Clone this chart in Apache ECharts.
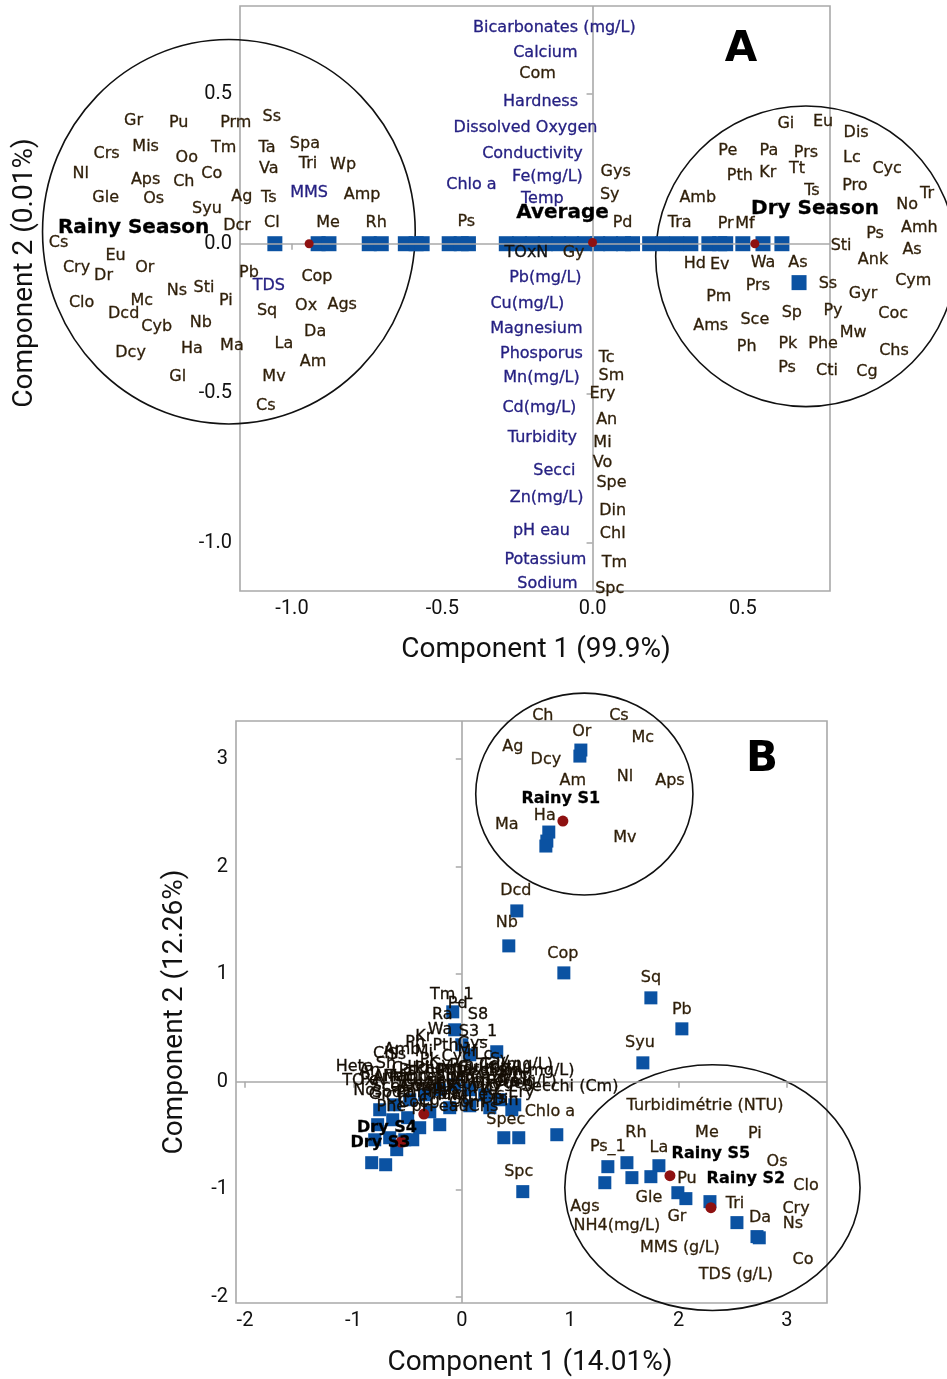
<!DOCTYPE html>
<html>
<head>
<meta charset="utf-8">
<script src="https://cdn.jsdelivr.net/npm/echarts@6/dist/echarts.min.js"></script>
<style>
  html, body { margin: 0; padding: 0; background: #ffffff; }
  #chart { width: 947px; height: 1379px; }
</style>
</head>
<body>
<div id="chart"></div>
<script>
// ---------- Panel A : PCA on seasons (PC1 99.9 %, PC2 0.01 %) ----------
// Species loadings [label, PC1, PC2]
const speciesA = [
  ['Gr', -1.527, 0.411], ['Pu', -1.377, 0.405], ['Prm', -1.187, 0.405], ['Ss', -1.067, 0.425],
  ['Crs', -1.617, 0.301], ['Mis', -1.487, 0.324], ['Oo', -1.350, 0.288], ['Tm', -1.227, 0.321],
  ['Ta', -1.083, 0.321], ['Nl', -1.703, 0.234], ['Aps', -1.487, 0.214], ['Ch', -1.360, 0.207],
  ['Co', -1.267, 0.234], ['Va', -1.077, 0.251], ['Gle', -1.620, 0.154], ['Os', -1.460, 0.151],
  ['Ag', -1.167, 0.157], ['Ts', -1.077, 0.154], ['Syu', -1.283, 0.117], ['Dcr', -1.183, 0.060],
  ['Cl', -1.067, 0.070], ['Cs', -1.777, 0.003], ['Eu', -1.587, -0.040], ['Cry', -1.717, -0.080],
  ['Dr', -1.627, -0.107], ['Or', -1.490, -0.080], ['Pb', -1.143, -0.097], ['Ns', -1.383, -0.157],
  ['Sti', -1.293, -0.147], ['Pi', -1.220, -0.191], ['Clo', -1.700, -0.197], ['Mc', -1.500, -0.191],
  ['Dcd', -1.560, -0.234], ['Cyb', -1.450, -0.278], ['Nb', -1.303, -0.264], ['Sq', -1.083, -0.224],
  ['Ha', -1.333, -0.351], ['Ma', -1.200, -0.341], ['La', -1.027, -0.334], ['Dcy', -1.537, -0.365],
  ['Gl', -1.380, -0.445], ['Mv', -1.060, -0.445], ['Cs', -1.087, -0.542],
  ['Spa', -0.957, 0.334], ['Tri', -0.947, 0.268], ['Wp', -0.830, 0.264], ['Amp', -0.767, 0.164],
  ['Me', -0.880, 0.070], ['Rh', -0.720, 0.070], ['Cop', -0.917, -0.110], ['Ox', -0.953, -0.207],
  ['Ags', -0.833, -0.204], ['Da', -0.923, -0.294], ['Am', -0.930, -0.395], ['Ps', -0.420, 0.074],
  ['Com', -0.183, 0.569], ['Gys', 0.077, 0.241], ['Sy', 0.057, 0.164], ['Pd', 0.100, 0.070],
  ['Gy', -0.063, -0.030], ['Tc', 0.047, -0.381], ['Sm', 0.063, -0.441], ['Ery', 0.033, -0.502],
  ['An', 0.047, -0.589], ['Mi', 0.033, -0.666], ['Vo', 0.033, -0.732], ['Spe', 0.063, -0.799],
  ['Din', 0.067, -0.893], ['Chl', 0.067, -0.970], ['Tm', 0.073, -1.067], ['Spc', 0.057, -1.154],
  ['Gi', 0.643, 0.401], ['Eu', 0.767, 0.408], ['Dis', 0.877, 0.371], ['Pe', 0.450, 0.311],
  ['Pa', 0.587, 0.311], ['Prs', 0.710, 0.304], ['Lc', 0.863, 0.288], ['Cyc', 0.980, 0.251],
  ['Pth', 0.490, 0.227], ['Kr', 0.583, 0.237], ['Tt', 0.680, 0.251], ['Ts', 0.730, 0.177],
  ['Pro', 0.873, 0.194], ['Amb', 0.350, 0.154], ['No', 1.047, 0.130], ['Tr', 1.113, 0.167],
  ['Tra', 0.290, 0.070], ['Pr', 0.443, 0.067], ['Mf', 0.507, 0.067], ['Amh', 1.087, 0.054],
  ['Ps', 0.940, 0.033], ['Sti', 0.827, -0.007], ['As', 1.063, -0.020], ['Ank', 0.933, -0.054],
  ['Hd', 0.340, -0.067], ['Ev', 0.423, -0.070], ['Wa', 0.567, -0.064], ['As', 0.683, -0.064],
  ['Prs', 0.550, -0.140], ['Ss', 0.783, -0.134], ['Cym', 1.067, -0.124], ['Gyr', 0.900, -0.167],
  ['Pm', 0.420, -0.177], ['Sp', 0.663, -0.231], ['Py', 0.800, -0.224], ['Coc', 1.000, -0.234],
  ['Sce', 0.540, -0.254], ['Ams', 0.393, -0.274], ['Mw', 0.867, -0.298], ['Ph', 0.513, -0.344],
  ['Pk', 0.650, -0.334], ['Phe', 0.767, -0.334], ['Chs', 1.003, -0.358], ['Ps', 0.647, -0.415],
  ['Cti', 0.780, -0.425], ['Cg', 0.913, -0.428]
];
// Physico-chemical loadings [label, PC1, PC2]
const paramsA = [
  ['Bicarbonates (mg/L)', -0.127, 0.722], ['Calcium', -0.157, 0.639], ['Hardness', -0.173, 0.475],
  ['Dissolved Oxygen', -0.223, 0.388], ['Conductivity', -0.200, 0.301], ['Chlo a', -0.403, 0.197],
  ['Fe(mg/L)', -0.150, 0.224], ['Temp', -0.167, 0.151],
  ['Pb(mg/L)', -0.157, -0.114], ['Cu(mg/L)', -0.217, -0.201], ['Magnesium', -0.187, -0.284],
  ['Phosporus', -0.170, -0.368], ['Mn(mg/L)', -0.170, -0.448], ['Cd(mg/L)', -0.177, -0.548],
  ['Turbidity', -0.167, -0.649], ['Secci', -0.127, -0.759], ['Zn(mg/L)', -0.153, -0.849],
  ['pH eau', -0.170, -0.960], ['Potassium', -0.157, -1.057], ['Sodium', -0.150, -1.137],
  ['MMS', -0.943, 0.171], ['TDS', -1.077, -0.140]
];
// Parameter label sitting on the sample row
const paramsOnRowA = [['TOxN', -0.220, -0.030]];
// Season labels [label, PC1, PC2]
const seasonsA = [['Rainy Season', -1.527, 0.054], ['Average', -0.100, 0.104], ['Dry Season', 0.740, 0.117]];
// Sample scores [PC1, PC2]
const scoresA = [
  [-1.057, 0], [-0.913, 0], [-0.877, 0], [-0.743, 0], [-0.703, 0], [-0.623, 0], [-0.587, 0],
  [-0.567, 0], [-0.477, 0], [-0.437, 0], [-0.413, 0], [-0.287, 0], [-0.243, 0], [-0.200, 0],
  [-0.157, 0], [-0.113, 0], [-0.070, 0], [-0.027, 0], [0.017, 0], [0.060, 0], [0.103, 0],
  [0.133, 0], [0.190, 0], [0.233, 0], [0.280, 0], [0.327, 0], [0.387, 0], [0.423, 0],
  [0.443, 0], [0.500, 0], [0.567, 0], [0.630, 0], [0.687, -0.130]
];
// Group centroids [PC1, PC2]
const centroidsA = [[-0.943, 0], [0.0, 0.004], [0.540, 0]];
// Group envelopes [centre PC1, centre PC2, radius PC1, radius PC2]
const groupsA = [[-1.210, 0.040, 0.620, 0.642], [0.710, -0.042, 0.500, 0.502]];
const ticksAx = [-1.0, -0.5, 0.0, 0.5];
const ticksAy = [-1.0, -0.5, 0.0, 0.5];

// ---------- Panel B : PCA on sampling sites (PC1 14.01 %, PC2 12.26 %) ----------
const speciesB = [
  ['Ch', 0.748, 3.398], ['Cs', 1.450, 3.398], ['Or', 1.108, 3.250], ['Mc', 1.671, 3.194],
  ['Ag', 0.471, 3.111], ['Dcy', 0.776, 2.990], ['Am', 1.025, 2.795], ['Nl', 1.505, 2.832],
  ['Aps', 1.921, 2.795], ['Ha', 0.766, 2.470], ['Ma', 0.416, 2.386], ['Mv', 1.505, 2.266],
  ['Dcd', 0.499, 1.773], ['Nb', 0.416, 1.476], ['Cop', 0.933, 1.188], ['Sq', 1.745, 0.966],
  ['Pb', 2.031, 0.669], ['Syu', 1.644, 0.362], ['Spec', 0.406, -0.353], ['Spc', 0.526, -0.836],
  ['Rh', 1.607, -0.474], ['Me', 2.262, -0.474], ['Pi', 2.705, -0.483], ['Ps_1', 1.348, -0.604],
  ['La', 1.819, -0.613], ['Os', 2.909, -0.743], ['Pu', 2.078, -0.901], ['Clo', 3.176, -0.966],
  ['Gle', 1.727, -1.077], ['Tri', 2.521, -1.133], ['Ags', 1.136, -1.161], ['Cry', 3.084, -1.179],
  ['Gr', 1.985, -1.253], ['Da', 2.752, -1.263], ['Ns', 3.056, -1.318], ['Co', 3.149, -1.653]
];
// Species and parameters crowded around the origin of panel B
const coreB = [
  ['Tm_1', -0.092, 0.808], ['Pd', -0.037, 0.724], ['Ra', -0.180, 0.620], ['S8', 0.150, 0.620],
  ['Wa', -0.200, 0.480], ['S3_1', 0.150, 0.460], ['Ph', -0.430, 0.360], ['Ss', -0.600, 0.250],
  ['Sh', -0.700, 0.170], ['Heta', -0.988, 0.139], ['Pk', -0.300, 0.200], ['Cyc', -0.050, 0.230],
  ['Lc', 0.200, 0.250], ['Ps', -0.500, 0.100], ['Sp', -0.250, 0.060], ['Py', 0.050, 0.080],
  ['Gyr', 0.280, 0.070], ['Sce', -0.700, -0.050], ['Ams', -0.420, -0.050], ['Pro', -0.150, -0.080],
  ['Tt', 0.150, -0.070], ['Cti', -0.600, -0.150], ['Cg', -0.300, -0.180], ['Sti', 0.000, -0.170],
  ['Dis', 0.300, -0.160], ['Eu', -0.450, 0.000], ['Pe', -0.850, 0.020], ['Tra', 0.420, 0.000],
  ['Amb', -0.550, 0.300], ['Kr', -0.350, 0.420], ['Pth', -0.150, 0.330], ['Gys', 0.100, 0.350],
  ['Amh', -0.650, 0.050], ['Ank', -0.200, -0.020], ['Cym', 0.100, 0.000], ['Coc', -0.450, -0.200],
  ['Mw', -0.100, -0.130], ['Chs', 0.200, -0.230], ['Phe', -0.650, -0.230], ['Sy', 0.350, 0.200],
  ['Gi', -0.780, -0.120], ['Pa', -0.520, -0.100], ['Prs', -0.250, -0.120], ['Pm', 0.000, 0.150],
  ['Tc', 0.250, 0.150], ['Sm', 0.450, 0.080], ['Ery', 0.550, -0.100], ['An', -0.850, 0.100],
  ['Mi', -0.350, 0.280], ['Vo', 0.250, -0.050], ['Spe', -0.100, 0.050], ['Din', 0.400, -0.180],
  ['Chl', -0.700, 0.260], ['Gy', -0.200, 0.160], ['Com', 0.050, -0.200], ['No', -0.900, -0.080],
  ['Tr', 0.600, 0.020], ['Hd', -0.400, 0.130], ['Ev', -0.150, -0.030], ['Mf', 0.050, 0.280],
  ['TOxN', -0.900, 0.010], ['Cd(mg/L)', 0.500, 0.160], ['Zn(mg/L)', 0.700, 0.100],
  ['Secchi (Cm)', 1.000, -0.050], ['Fe(mg/L)', 0.550, 0.000], ['Cu(mg/L)', 0.300, 0.130],
  ['Calcium', -0.350, 0.120], ['Sodium', -0.550, -0.100], ['Hardness', 0.050, -0.120],
  ['pH eau', -0.200, -0.230], ['Magnesium', -0.300, 0.050], ['Potassium', 0.150, 0.100],
  ['Conductivity', -0.100, -0.050], ['Mn(mg/L)', 0.250, 0.030], ['Temp', -0.500, 0.050],
  ['Phosporus', -0.050, 0.120], ['Dissolved Oxygen', 0.000, -0.020]
];
const paramsB = [
  ['Turbidimétrie (NTU)', 2.244, -0.223], ['NH4(mg/L)', 1.431, -1.337], ['MMS (g/L)', 2.013, -1.541],
  ['TDS (g/L)', 2.530, -1.792], ['Chlo a', 0.813, -0.279]
];
const sitesB = [['Rainy S1', 0.914, 2.628], ['Rainy S5', 2.299, -0.669], ['Rainy S2', 2.622, -0.901],
  ['Dry S4', -0.690, -0.430], ['Dry S3', -0.750, -0.570]];
const scoresB = [
  [1.099, 3.083], [1.090, 3.027], [0.803, 2.321], [0.785, 2.237], [0.776, 2.191],
  [0.508, 1.588], [0.434, 1.263], [0.942, 1.012], [1.745, 0.780], [2.031, 0.492], [1.671, 0.176],
  [0.877, -0.492], [0.388, -0.520], [0.526, -0.520], [0.563, -1.021],
  [1.348, -0.789], [1.524, -0.752], [1.819, -0.780], [1.320, -0.938], [1.570, -0.891],
  [1.745, -0.882], [1.994, -1.031], [2.068, -1.086], [2.290, -1.114], [2.539, -1.309],
  [2.724, -1.439], [2.745, -1.450],
  [-0.083, 0.650], [-0.065, 0.483], [0.0, 0.344], [0.074, 0.251], [0.323, 0.279],
  [-0.757, -0.260], [-0.619, -0.214], [-0.480, -0.167], [-0.342, -0.121], [-0.203, -0.074],
  [-0.065, -0.028], [0.074, -0.074], [0.212, -0.121], [0.351, -0.167], [0.489, -0.214],
  [-0.776, -0.399], [-0.637, -0.353], [-0.499, -0.334], [-0.295, -0.279], [-0.111, -0.241],
  [0.074, -0.223], [0.259, -0.241], [0.462, -0.260], [-0.803, -0.539], [-0.665, -0.520],
  [-0.526, -0.539], [-0.388, -0.427], [-0.203, -0.399], [-0.831, -0.752], [-0.702, -0.771],
  [-0.600, -0.631], [-0.452, -0.539]
];
const centroidsB = [[0.933, 2.423], [1.921, -0.873], [2.299, -1.170], [-0.560, -0.560], [-0.350, -0.300]];
const groupsB = [[1.131, 2.674, 1.002, 0.938], [2.313, -0.984, 1.362, 1.142]];
const ticksBx = [-2, -1, 0, 1, 2, 3];
const ticksBy = [-2, -1, 0, 1, 2, 3];

// ---------- styling ----------
const LABEL_FONT = "'DejaVu Sans', sans-serif";
const AXIS_FONT = "Roboto, 'Open Sans', sans-serif";
const SPECIES_COLOR = '#2e1e08';
const PARAM_COLOR = '#252082';
const CORE_COLOR = '#140d04';
const SQUARE_COLOR = '#0b52a2';
const DOT_COLOR = '#8e1111';
const FRAME_COLOR = '#a9a9a9';

const chart = echarts.init(document.getElementById('chart'), null, { renderer: 'canvas' });

function labels(data, idx, color, size, weight, stroke) {
  return {
    type: 'scatter', xAxisIndex: idx, yAxisIndex: idx, silent: true, clip: false,
    symbol: 'rect', symbolSize: 0, z: 6,
    itemStyle: { color: 'rgba(0,0,0,0)' },
    data: data.map(d => ({ name: d[0], value: [d[1], d[2]] })),
    label: {
      show: true, position: 'inside', formatter: '{b}', color: color, opacity: 1,
      fontFamily: LABEL_FONT, fontSize: size, fontWeight: weight || 'normal',
      textBorderColor: color, textBorderWidth: stroke === undefined ? 0.3 : stroke
    },
    labelLayout: { hideOverlap: false }
  };
}
function points(data, idx, symbol, size, color, z) {
  return {
    type: 'scatter', xAxisIndex: idx, yAxisIndex: idx, silent: true, clip: false,
    symbol: symbol, symbolSize: size, z: z, itemStyle: { color: color, opacity: 1 },
    data: data
  };
}
function envelopes(data, idx) {
  return {
    type: 'custom', xAxisIndex: idx, yAxisIndex: idx, silent: true, clip: false, z: 3,
    data: data,
    encode: { x: 0, y: 1 },
    renderItem: function (params, api) {
      const c = api.coord([api.value(0), api.value(1)]);
      const s = api.size([api.value(2), api.value(3)]);
      return {
        type: 'ellipse',
        shape: { cx: c[0], cy: c[1], rx: s[0], ry: s[1] },
        style: { fill: null, stroke: '#111111', lineWidth: 1.6 }
      };
    }
  };
}
function zeroLines(idx) {
  return {
    type: 'scatter', xAxisIndex: idx, yAxisIndex: idx, silent: true, data: [], z: 1,
    markLine: {
      silent: true, symbol: 'none', animation: false,
      label: { show: false },
      lineStyle: { color: FRAME_COLOR, type: 'solid', width: 1.6 },
      data: [{ xAxis: 0 }, { yAxis: 0 }]
    }
  };
}
function valueAxis(pos, idx, min, max, ticks, fmt) {
  return {
    type: 'value', gridIndex: idx, position: pos, min: min, max: max,
    splitLine: { show: false },
    axisLine: { show: false },
    axisTick: { show: true, length: 6, customValues: ticks, lineStyle: { color: FRAME_COLOR, width: 1.5 } },
    axisLabel: {
      show: true, customValues: ticks, formatter: fmt, margin: 8,
      color: '#111111', fontFamily: AXIS_FONT, fontSize: 20
    }
  };
}
const fmt1 = v => v.toFixed(1);
const fmt0 = v => String(Math.round(v));
const titleStyle = { fill: '#111', fontFamily: AXIS_FONT, fontSize: 28, align: 'center', verticalAlign: 'middle' };

const option = {
  animation: false,
  backgroundColor: '#ffffff',
  grid: [
    { left: 240, top: 6, width: 590, height: 585, show: true, borderColor: FRAME_COLOR, borderWidth: 1.6, backgroundColor: 'transparent' },
    { left: 236, top: 721, width: 591, height: 582, show: true, borderColor: FRAME_COLOR, borderWidth: 1.6, backgroundColor: 'transparent' }
  ],
  xAxis: [
    valueAxis('bottom', 0, -1.173, 0.79, ticksAx, fmt1),
    valueAxis('bottom', 1, -2.083, 3.37, ticksBx, fmt0)
  ],
  yAxis: [
    valueAxis('left', 0, -1.16, 0.794, ticksAy, fmt1),
    valueAxis('left', 1, -2.056, 3.353, ticksBy, fmt0)
  ],
  graphic: [
    { type: 'text', x: 536, y: 650, silent: true, style: Object.assign({ text: 'Component 1 (99.9%)' }, titleStyle) },
    { type: 'text', x: 25, y: 273, rotation: Math.PI / 2, silent: true, style: Object.assign({ text: 'Component 2 (0.01%)' }, titleStyle) },
    { type: 'text', x: 530, y: 1363, silent: true, style: Object.assign({ text: 'Component 1 (14.01%)' }, titleStyle) },
    { type: 'text', x: 175, y: 1012, rotation: Math.PI / 2, silent: true, style: Object.assign({ text: 'Component 2 (12.26%)' }, titleStyle) },
    { type: 'text', x: 741, y: 50, silent: true, style: { text: 'A', fill: '#000', fontFamily: "'DejaVu Sans', sans-serif", fontWeight: 'bold', fontSize: 42, align: 'center', verticalAlign: 'middle' } },
    { type: 'text', x: 762, y: 760, silent: true, style: { text: 'B', fill: '#000', fontFamily: "'DejaVu Sans', sans-serif", fontWeight: 'bold', fontSize: 42, align: 'center', verticalAlign: 'middle' } }
  ],
  series: [
    zeroLines(0),
    zeroLines(1),
    envelopes(groupsA, 0),
    envelopes(groupsB, 1),
    points(scoresA, 0, 'rect', 15, SQUARE_COLOR, 4),
    points(centroidsA, 0, 'circle', 9, DOT_COLOR, 5),
    points(scoresB, 1, 'rect', 13, SQUARE_COLOR, 4),
    points(centroidsB, 1, 'circle', 11, DOT_COLOR, 5),
    labels(speciesA, 0, SPECIES_COLOR, 16),
    labels(paramsA, 0, PARAM_COLOR, 16),
    labels(paramsOnRowA, 0, '#111111', 16),
    labels(seasonsA, 0, '#000000', 20, 'bold', 0.3),
    labels(speciesB, 1, SPECIES_COLOR, 16),
    labels(coreB, 1, CORE_COLOR, 16),
    labels(paramsB, 1, SPECIES_COLOR, 16),
    labels(sitesB, 1, '#000000', 16, 'bold', 0.3)
  ]
};
chart.setOption(option);
</script>
</body>
</html>
